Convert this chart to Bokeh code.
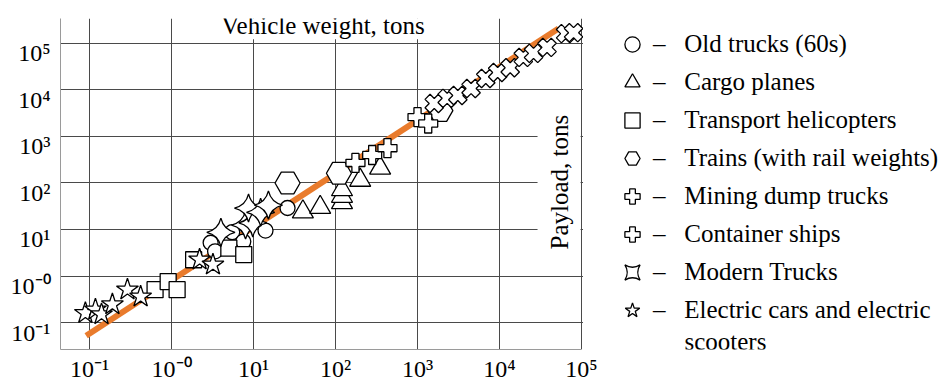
import math
from bokeh.plotting import figure
from bokeh.models import (FixedTicker, LogAxis, Range1d, LogScale, Label, Legend,
                          LegendItem, Grid, BoxAnnotation)
from bokeh.embed import file_html
from bokeh.resources import INLINE

# ---------------- data ----------------
X_TICKS = [0.1, 1.0, 10.0, 100.0, 1000.0, 10000.0, 100000.0]
X_TICK_LABELS = ["10⁻¹", "10⁻⁰", "10¹", "10²", "10³", "10⁴", "10⁵"]
Y_TICKS = [0.1, 1.0, 10.0, 100.0, 1000.0, 10000.0, 100000.0]
Y_TICK_LABELS = ["10⁻¹", "10⁻⁰", "10¹", "10²", "10³", "10⁴", "10⁵"]

X_TITLE = "Vehicle weight, tons"
Y_TITLE = "Payload, tons"

# trend line (vehicle weight, payload)
FIT_W = [0.091, 52500]
FIT_P = [0.052, 209000]

OLD_TRUCKS_W = [3.0, 3.4, 5.5, 7.5, 14.0, 26.0]
OLD_TRUCKS_P = [5.2, 3.4, 8.8, 5.5, 9.5, 29.0]

CARGO_PLANES_W = [40, 65, 120, 120, 120, 200, 350]
CARGO_PLANES_P = [24, 30, 38, 52, 72, 115, 210]

HELICOPTERS_W = [0.63, 0.91, 1.17, 1.86, 5.0, 7.6]
HELICOPTERS_P = [0.51, 0.76, 0.51, 2.24, 4.0, 2.9]

TRAINS_W = [26, 110, 1900]
TRAINS_P = [100, 162, 3600]

MINING_W = [175, 280, 430, 1000, 1350]
MINING_P = [270, 400, 560, 2600, 1900]

SHIPS_W = [1600, 2300, 3100, 4500, 6800, 9500, 13500, 19500, 26000, 38000, 64000, 80000]
SHIPS_P = [5100, 6600, 7600, 10700, 17600, 23700, 30000, 50000, 61000, 82000, 162000, 170000]

MODERN_W = [4.0, 8.0, 9.8, 8.7, 12.2, 15.2]
MODERN_P = [8.7, 12.5, 13.9, 29.0, 23.5, 33.5]

ELECTRIC_W = [0.089, 0.118, 0.14, 0.19, 0.29, 0.42, 2.2, 3.2]
ELECTRIC_P = [0.16, 0.19, 0.15, 0.245, 0.51, 0.36, 2.25, 1.75]

LEGEND_LABELS = [
    "Old trucks (60s)",
    "Cargo planes",
    "Transport helicopters",
    "Trains (with rail weights)",
    "Mining dump trucks",
    "Container ships",
    "Modern Trucks",
    "Electric cars and electric",
]
LEGEND_LAST_LINE = "scooters"

# ---------------- style ----------------
FONT = "Liberation Serif"
W, H = 950, 384
X_RANGE = (10 ** -1.354, 10 ** 9.5)      # plot area beyond 10^5 holds the legend
X_DATA_END = 10 ** 5.0
Y_RANGE = (10 ** -1.578, 10 ** 5.535)
LABEL_SHIFT = 10 ** 0.214   # y tick labels sit a little below their grid lines
GRID = "#4a4a4a"
EDGE = "#9a9a9a"

p = figure(width=W, height=H, x_axis_type="log", y_axis_type="log",
           x_range=Range1d(*X_RANGE), y_range=Range1d(*Y_RANGE),
           y_axis_location=None, output_backend="svg", toolbar_location=None,
           min_border_left=60, min_border_right=0, min_border_top=18,
           min_border_bottom=34, outline_line_color=None,
           background_fill_color="white", border_fill_color="white")

# grids
p.xgrid.ticker = FixedTicker(ticks=X_TICKS, minor_ticks=[])
p.xgrid.grid_line_color = GRID
if len(p.ygrid) == 0:
    p.add_layout(Grid(dimension=1, ticker=FixedTicker(ticks=Y_TICKS, minor_ticks=[])))
else:
    p.ygrid.ticker = FixedTicker(ticks=Y_TICKS, minor_ticks=[])
p.ygrid.grid_line_color = GRID

axis_style = dict(major_tick_in=0, major_tick_out=0, minor_tick_in=0, minor_tick_out=0,
                  axis_line_color=EDGE, major_label_text_font=FONT,
                  major_label_text_font_size="24px", major_label_text_color="black")

xax = p.xaxis[0]
xax.ticker = FixedTicker(ticks=X_TICKS, minor_ticks=[])
xax.major_label_overrides = dict(zip(X_TICKS, X_TICK_LABELS))
xax.major_label_standoff = 6
xax.bounds = (X_RANGE[0], X_DATA_END)
for k, v in axis_style.items():
    setattr(xax, k, v)

p.extra_y_ranges = {"ylab": Range1d(Y_RANGE[0] * LABEL_SHIFT, Y_RANGE[1] * LABEL_SHIFT)}
p.extra_y_scales = {"ylab": LogScale()}
yax = LogAxis(y_range_name="ylab", ticker=FixedTicker(ticks=Y_TICKS, minor_ticks=[]),
              major_label_overrides=dict(zip(Y_TICKS, Y_TICK_LABELS)),
              major_label_standoff=10, **axis_style)
p.add_layout(yax, "left")

# trend line
p.line(FIT_W, FIT_P, line_color="#E97B2C", line_width=6)

mk = dict(fill_color="white", line_color="black", line_width=1.3)
r_old = p.scatter(OLD_TRUCKS_W, OLD_TRUCKS_P, marker="circle", size=15, **mk)
r_plane = p.scatter(CARGO_PLANES_W, CARGO_PLANES_P, marker="triangle", size=21, **mk)
r_heli = p.scatter(HELICOPTERS_W, HELICOPTERS_P, marker="square", size=16, **mk)
r_train = p.scatter(TRAINS_W, TRAINS_P, marker="hex", size=25, **mk)
r_mine = p.scatter(MINING_W, MINING_P, marker="plus", size=19, **mk)
r_ship = p.scatter(SHIPS_W, SHIPS_P, marker="plus", size=19, angle=math.pi / 4, **mk)
r_modern = p.scatter(MODERN_W, MODERN_P, marker="square_pin", size=20, angle=math.pi / 4, **mk)
r_elec = p.scatter(ELECTRIC_W, ELECTRIC_P, marker="star", size=23, **mk)

# blank out the grid beyond the data area (legend area)
p.add_layout(BoxAnnotation(left=X_DATA_END * 10 ** (1.5 / 82), fill_color="white",
                           fill_alpha=1.0, line_color=None))

# in-plot axis titles
p.add_layout(Label(x=10 ** 1.848, y=10 ** 5.38, text=X_TITLE, text_align="center",
                   text_baseline="middle", text_font=FONT, text_font_size="25px",
                   text_color="black", background_fill_color="white",
                   padding=dict(left=7, right=7, top=0, bottom=0)))
p.add_layout(Label(x=10 ** 4.726, y=10 ** 2.019, text=Y_TITLE, angle=math.pi / 2,
                   text_align="center", text_baseline="middle", text_font=FONT,
                   text_font_size="25px", text_color="black",
                   background_fill_color="white", padding=8))

# legend (to the right of the data area)
NB = "\u00a0"
renderers = [r_old, r_plane, r_heli, r_train, r_mine, r_ship, r_modern, r_elec]
items = [LegendItem(label="–" + NB * 3 + lab, renderers=[r])
         for lab, r in zip(LEGEND_LABELS, renderers)]
legend = Legend(items=items, location=(553, 20), orientation="vertical",
                glyph_width=38, glyph_height=38, spacing=0, label_standoff=2,
                padding=0, margin=0, border_line_color=None, background_fill_alpha=0,
                label_text_font=FONT, label_text_font_size="25px",
                label_text_color="black")
p.add_layout(legend)
# second line of the last legend entry
p.add_layout(Label(x=10 ** 6.256, y=10 ** -1.40, text=LEGEND_LAST_LINE, text_align="left",
                   text_baseline="middle", text_font=FONT, text_font_size="25px",
                   text_color="black"))

open("out.html", "w").write(file_html(p, INLINE))
